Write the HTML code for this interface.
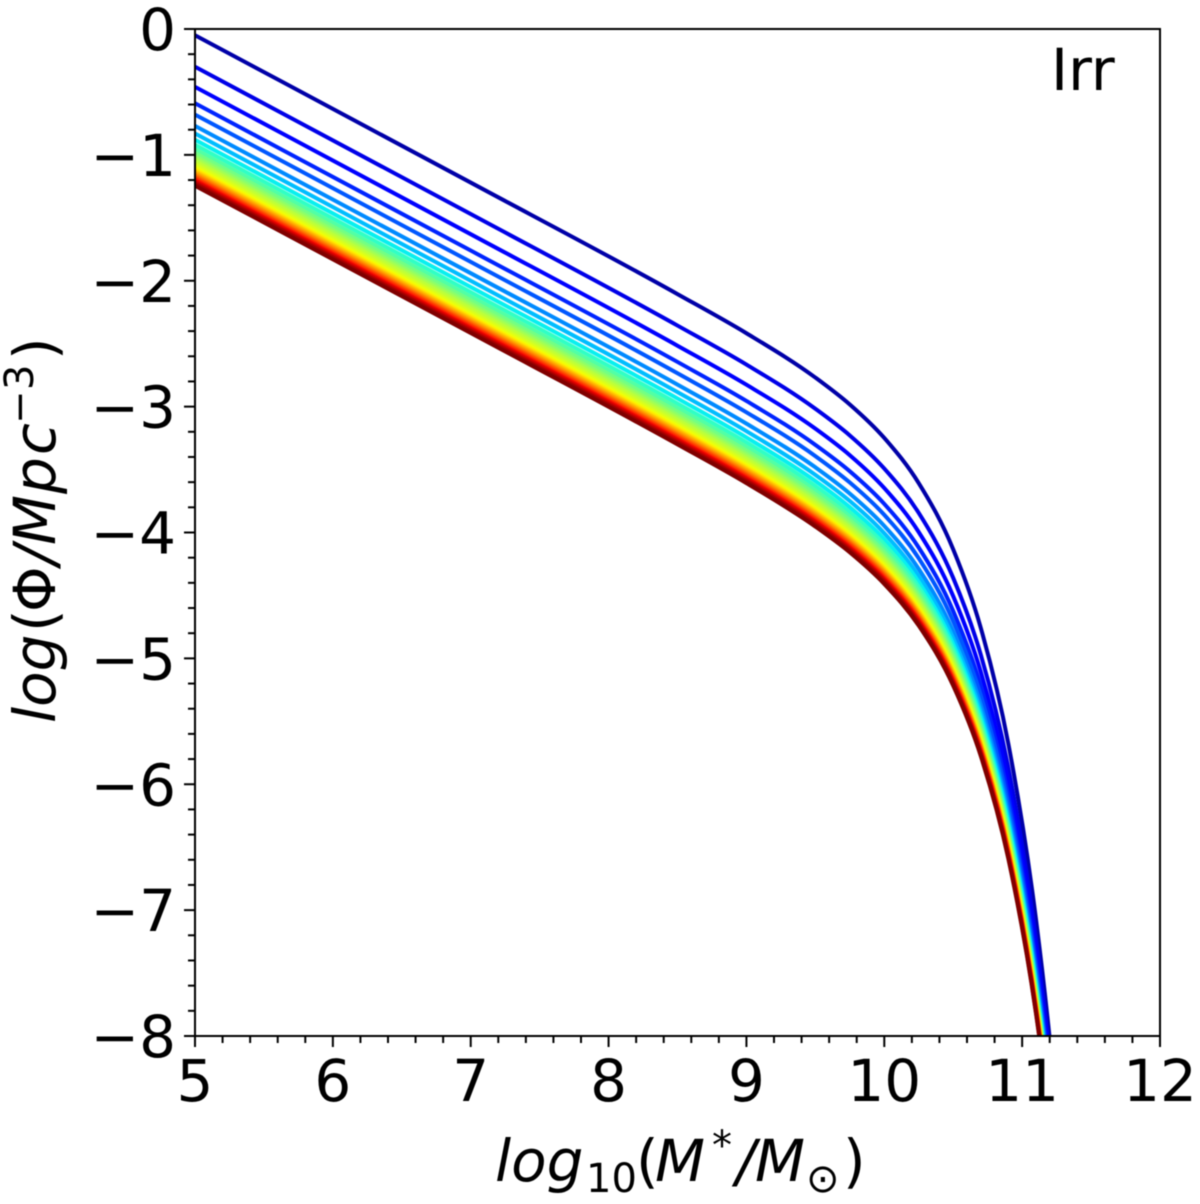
<!DOCTYPE html>
<html>
<head>
<meta charset="utf-8">
<title>Irr mass function</title>
<style>
html,body{margin:0;padding:0;background:#fff;}
svg{display:block;filter:blur(0.5px);}
text{font-family:"DejaVu Sans","Liberation Sans",sans-serif;fill:#000;}
.math{font-style:italic;}
.up{font-style:normal;}
</style>
</head>
<body>
<svg id="chart" xmlns="http://www.w3.org/2000/svg" width="1200" height="1204" viewBox="0 0 1200 1204">
  <defs><clipPath id="plot-clip"><rect x="195" y="29" width="965" height="1007"/></clipPath></defs>
  <rect x="195" y="29" width="965" height="1007" fill="#fff"/>
  <g id="curves" clip-path="url(#plot-clip)"></g>
  <g id="ticks"></g>
  <rect x="195" y="29" width="965" height="1007" fill="none" stroke="#000" stroke-width="2"/>
  <g id="tick-labels"></g>
  <text x="1051" y="90" font-size="58">Irr</text>
  <text y="1181" font-size="58" class="math"><tspan x="495">log</tspan><tspan x="586" y="1192" font-size="40" class="up">10</tspan><tspan x="636" y="1181" class="up">(</tspan><tspan x="655">M</tspan><tspan x="712" y="1159" font-size="40" class="up">*</tspan><tspan x="736" y="1181">/</tspan><tspan x="755">M</tspan><tspan x="806" y="1192" font-size="40" class="up">⊙</tspan><tspan x="843" y="1181" class="up">)</tspan></text>
  <text transform="translate(55,720) rotate(-90)" font-size="58" class="math"><tspan x="-3" y="0">log</tspan><tspan x="88" class="up">(</tspan><tspan x="108" class="up">Φ</tspan><tspan x="155">/</tspan><tspan x="175">M</tspan><tspan x="226">p</tspan><tspan x="265">c</tspan><tspan x="296" y="-22" font-size="40" class="up">−</tspan><tspan x="330" font-size="40" class="up">3</tspan><tspan x="360" y="0" class="up">)</tspan></text>
</svg>
<script>
const massKnots = [5, 7, 8.5, 9, 9.5, 9.75, 10, 10.25, 10.5, 10.7, 10.9, 11.1, 11.2, 11.3];
const seriesValues = [
  [-0.05,-1.22,-2.106,-2.417,-2.769,-2.983,-3.249,-3.608,-4.134,-4.758,-5.679,-7.069,-8.020,-9.203],
  [-0.30,-1.47,-2.356,-2.666,-3.017,-3.229,-3.492,-3.845,-4.361,-4.971,-5.870,-7.226,-8.153,-9.305],
  [-0.46,-1.63,-2.516,-2.826,-3.175,-3.386,-3.647,-3.997,-4.506,-5.108,-5.993,-7.327,-8.239,-9.372],
  [-0.59,-1.76,-2.645,-2.955,-3.304,-3.514,-3.773,-4.120,-4.624,-5.218,-6.093,-7.409,-8.308,-9.426],
  [-0.68,-1.85,-2.735,-3.045,-3.393,-3.603,-3.860,-4.205,-4.705,-5.295,-6.161,-7.464,-8.355,-9.461],
  [-0.77,-1.94,-2.825,-3.135,-3.482,-3.691,-3.948,-4.290,-4.786,-5.371,-6.229,-7.520,-8.401,-9.497],
  [-0.83,-2.00,-2.885,-3.195,-3.542,-3.750,-4.006,-4.347,-4.841,-5.423,-6.276,-7.559,-8.435,-9.524],
  [-0.88,-2.05,-2.935,-3.245,-3.591,-3.799,-4.054,-4.394,-4.886,-5.464,-6.313,-7.588,-8.459,-9.541],
  [-0.92,-2.09,-2.975,-3.284,-3.631,-3.839,-4.093,-4.432,-4.923,-5.499,-6.344,-7.615,-8.482,-9.559],
  [-0.955,-2.125,-3.010,-3.319,-3.666,-3.873,-4.127,-4.465,-4.954,-5.528,-6.371,-7.636,-8.499,-9.572],
  [-0.985,-2.155,-3.040,-3.349,-3.695,-3.902,-4.156,-4.494,-4.981,-5.554,-6.394,-7.656,-8.516,-9.586],
  [-1.01,-2.18,-3.065,-3.374,-3.720,-3.927,-4.181,-4.517,-5.004,-5.575,-6.413,-7.670,-8.528,-9.594],
  [-1.03,-2.20,-3.085,-3.394,-3.740,-3.947,-4.200,-4.536,-5.022,-5.592,-6.428,-7.683,-8.540,-9.603],
  [-1.05,-2.22,-3.105,-3.414,-3.760,-3.966,-4.219,-4.555,-5.040,-5.610,-6.444,-7.696,-8.551,-9.613],
  [-1.07,-2.24,-3.125,-3.434,-3.779,-3.986,-4.239,-4.574,-5.059,-5.627,-6.460,-7.709,-8.562,-9.622],
  [-1.085,-2.255,-3.140,-3.449,-3.794,-4.001,-4.253,-4.588,-5.072,-5.639,-6.470,-7.718,-8.569,-9.626],
  [-1.10,-2.27,-3.155,-3.464,-3.809,-4.016,-4.268,-4.603,-5.086,-5.653,-6.483,-7.729,-8.579,-9.635],
  [-1.115,-2.285,-3.170,-3.479,-3.824,-4.030,-4.282,-4.617,-5.099,-5.665,-6.494,-7.737,-8.586,-9.639],
  [-1.128,-2.298,-3.183,-3.492,-3.837,-4.043,-4.295,-4.630,-5.111,-5.677,-6.504,-7.747,-8.594,-9.647],
  [-1.14,-2.31,-3.195,-3.504,-3.849,-4.055,-4.307,-4.641,-5.122,-5.686,-6.512,-7.752,-8.598,-9.648],
  [-1.152,-2.322,-3.207,-3.516,-3.861,-4.067,-4.318,-4.652,-5.133,-5.697,-6.522,-7.760,-8.605,-9.654],
  [-1.163,-2.333,-3.218,-3.527,-3.872,-4.078,-4.329,-4.663,-5.143,-5.706,-6.531,-7.768,-8.612,-9.660],
  [-1.174,-2.344,-3.229,-3.538,-3.883,-4.088,-4.340,-4.673,-5.153,-5.716,-6.540,-7.776,-8.619,-9.665],
  [-1.184,-2.354,-3.239,-3.548,-3.892,-4.098,-4.350,-4.683,-5.162,-5.724,-6.547,-7.782,-8.624,-9.670],
  [-1.194,-2.364,-3.249,-3.558,-3.902,-4.108,-4.359,-4.692,-5.171,-5.732,-6.553,-7.785,-8.625,-9.669],
  [-1.204,-2.374,-3.259,-3.568,-3.912,-4.118,-4.369,-4.701,-5.180,-5.740,-6.561,-7.792,-8.631,-9.674],
  [-1.213,-2.383,-3.268,-3.577,-3.921,-4.127,-4.377,-4.710,-5.188,-5.748,-6.568,-7.797,-8.636,-9.677],
  [-1.222,-2.392,-3.277,-3.586,-3.930,-4.135,-4.386,-4.718,-5.196,-5.756,-6.575,-7.803,-8.640,-9.681],
  [-1.231,-2.401,-3.286,-3.594,-3.939,-4.144,-4.395,-4.727,-5.204,-5.763,-6.581,-7.808,-8.645,-9.684],
  [-1.245,-2.415,-3.300,-3.608,-3.953,-4.158,-4.409,-4.740,-5.217,-5.776,-6.593,-7.819,-8.655,-9.693]
];
const colormapPositions = [0.035,0.09,0.11,0.16,0.21,0.26,0.31,0.36,0.41,0.45,0.49,0.52,0.55,0.58,0.60,0.62,0.64,0.66,0.69,0.72,0.75,0.78,0.81,0.84,0.87,0.90,0.92,0.94,0.97,1];
const xTickValues = [5,6,7,8,9,10,11,12];
const xTickLabels = ['5','6','7','8','9','10','11','12'];
const yTickValues = [0,-1,-2,-3,-4,-5,-6,-7,-8];
const yTickLabels = ['0','−1','−2','−3','−4','−5','−6','−7','−8'];

const NS = 'http://www.w3.org/2000/svg';
const sx = v => 195 + (v - 5) * (965 / 7);
const sy = v => 29 + (0 - v) * (1007 / 8);

function ramp(v, pts) {
  for (let i = 1; i < pts.length; i++) {
    if (v <= pts[i][0]) {
      const a = pts[i - 1], b = pts[i];
      return a[1] + (b[1] - a[1]) * (v - a[0]) / (b[0] - a[0]);
    }
  }
  return pts[pts.length - 1][1];
}
function jet(v) {
  const r = ramp(v, [[0,0],[0.35,0],[0.66,1],[0.89,1],[1,0.5]]);
  const g = ramp(v, [[0,0],[0.125,0],[0.375,1],[0.64,1],[0.91,0],[1,0]]);
  const b = ramp(v, [[0,0.5],[0.11,1],[0.34,1],[0.65,0],[1,0]]);
  return 'rgb(' + Math.round(r * 255) + ',' + Math.round(g * 255) + ',' + Math.round(b * 255) + ')';
}
function curvePath(xs, ys) {
  const n = xs.length, t = [];
  for (let i = 0; i < n; i++) {
    if (i === 0) { t.push((ys[1] - ys[0]) / (xs[1] - xs[0])); continue; }
    if (i === n - 1) { t.push((ys[n - 1] - ys[n - 2]) / (xs[n - 1] - xs[n - 2])); continue; }
    const h0 = xs[i] - xs[i - 1], h1 = xs[i + 1] - xs[i];
    const d0 = (ys[i] - ys[i - 1]) / h0, d1 = (ys[i + 1] - ys[i]) / h1;
    t.push((d0 * h1 + d1 * h0) / (h0 + h1));
  }
  let d = 'M' + sx(xs[0]).toFixed(2) + ' ' + sy(ys[0]).toFixed(2);
  for (let i = 0; i < n - 1; i++) {
    const h = xs[i + 1] - xs[i];
    d += 'C' + sx(xs[i] + h / 3).toFixed(2) + ' ' + sy(ys[i] + t[i] * h / 3).toFixed(2) + ' ' +
      sx(xs[i + 1] - h / 3).toFixed(2) + ' ' + sy(ys[i + 1] - t[i + 1] * h / 3).toFixed(2) + ' ' +
      sx(xs[i + 1]).toFixed(2) + ' ' + sy(ys[i + 1]).toFixed(2);
  }
  return d;
}

const curveGroup = document.getElementById('curves');
seriesValues.forEach(function (vals, i) {
  const p = document.createElementNS(NS, 'path');
  
  
  p.setAttribute('d', curvePath(massKnots, vals));
  p.setAttribute('fill', 'none');
  p.setAttribute('stroke', jet(colormapPositions[i]));
  p.setAttribute('stroke-width', '4');
  curveGroup.appendChild(p);
});

const tickGroup = document.getElementById('ticks');
function tickLine(x1, y1, x2, y2) {
  const l = document.createElementNS(NS, 'line');
  
  
  l.setAttribute('x1', x1);
  l.setAttribute('y1', y1);
  l.setAttribute('x2', x2);
  l.setAttribute('y2', y2);
  l.setAttribute('stroke', '#000');
  l.setAttribute('stroke-width', '2');
  tickGroup.appendChild(l);
}
xTickValues.forEach(function (v, i) {
  tickLine(sx(v), 1036, sx(v), 1047);
  if (i < xTickValues.length - 1) {
    for (let m = 1; m < 5; m++) tickLine(sx(v + m / 5), 1036, sx(v + m / 5), 1043);
  }
});
yTickValues.forEach(function (v, i) {
  tickLine(184, sy(v), 195, sy(v));
  if (i < yTickValues.length - 1) {
    for (let m = 1; m < 5; m++) tickLine(188, sy(v - m / 5), 195, sy(v - m / 5));
  }
});

const labelGroup = document.getElementById('tick-labels');
xTickValues.forEach(function (v, i) {
  const t = document.createElementNS(NS, 'text');
  
  
  t.setAttribute('x', sx(v));
  t.setAttribute('y', 1101);
  t.setAttribute('font-size', '58');
  t.setAttribute('text-anchor', 'middle');
  t.textContent = xTickLabels[i];
  labelGroup.appendChild(t);
});
yTickValues.forEach(function (v, i) {
  const t = document.createElementNS(NS, 'text');
  
  
  t.setAttribute('x', 176);
  t.setAttribute('y', sy(v) + 21);
  t.setAttribute('font-size', '58');
  t.setAttribute('text-anchor', 'end');
  t.textContent = yTickLabels[i];
  labelGroup.appendChild(t);
});
</script>
</body>
</html>
